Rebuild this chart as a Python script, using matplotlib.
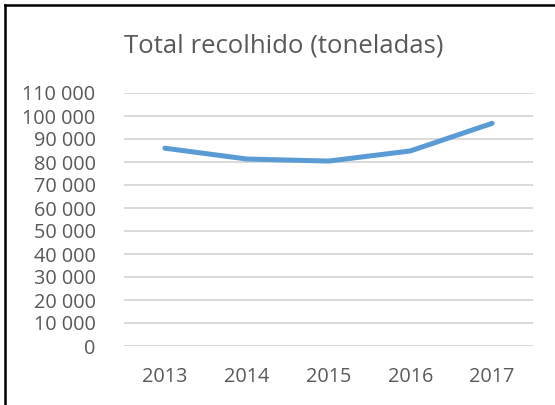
import matplotlib
matplotlib.use('Agg')
import matplotlib.pyplot as plt
from matplotlib.lines import Line2D
from matplotlib.ticker import FuncFormatter, MultipleLocator

years = ['2013', '2014', '2015', '2016', '2017']
total = [86000, 81300, 80400, 84800, 96800]
title = 'Total recolhido (toneladas)'

plt.rcParams['font.family'] = ['Open Sans', 'DejaVu Sans']
grey = '#595959'

fig = plt.figure(figsize=(5.55, 4.05), dpi=100)
ax = fig.add_axes([124 / 555, 59 / 405, 409 / 555, 253 / 405])

x = list(range(len(years)))
ax.plot(x, total, color='#5B9BD5', linewidth=3.6, solid_capstyle='round',
        solid_joinstyle='round', zorder=3)

ax.set_xlim(-0.5, len(years) - 0.5)
ax.set_ylim(0, 110000)
ax.yaxis.set_major_locator(MultipleLocator(10000))
ax.yaxis.set_major_formatter(FuncFormatter(lambda v, p: f'{int(v):,}'.replace(',', ' ')))
ax.set_xticks(x)
ax.set_xticklabels(years)

ax.grid(axis='y', color='#d9d9d9', linewidth=1.4)
ax.set_axisbelow(True)
for s in ax.spines.values():
    s.set_visible(False)
ax.tick_params(axis='both', length=0, colors=grey, labelsize=14.3)
ax.tick_params(axis='y', pad=20.5)
ax.tick_params(axis='x', pad=15)

fig.text(284 / 555, 1 - 46 / 405, title, ha='center', va='center',
         fontsize=18.5, color=grey)

# frame edges visible in the reference (top and left only)
fig.add_artist(Line2D([5 / 555, 5 / 555], [0, 1 - 5 / 405], transform=fig.transFigure,
                      color='black', linewidth=1.8))
fig.add_artist(Line2D([5 / 555, 1], [1 - 5 / 405, 1 - 5 / 405], transform=fig.transFigure,
                      color='black', linewidth=1.8))

fig.savefig('out.png', dpi=100)
